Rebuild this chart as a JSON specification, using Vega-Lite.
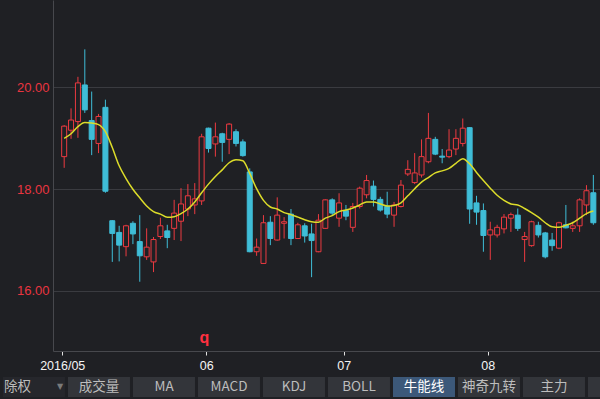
{
  "$schema": "https://vega.github.io/schema/vega-lite/v6.json",
  "width": 547,
  "height": 351,
  "autosize": {"type": "none"},
  "padding": {"left": 53, "top": 0, "right": 0, "bottom": 48},
  "background": "#1f2024",
  "config": {"view": {"stroke": null}},
  "datasets": {
    "k": [
      {"i":0,"o":18.64,"h":19.26,"l":18.42,"c":19.24,"ma":19.00},
      {"i":1,"o":19.16,"h":19.59,"l":18.99,"c":19.36,"ma":19.09},
      {"i":2,"o":19.33,"h":20.21,"l":19.01,"c":20.09,"ma":19.23},
      {"i":3,"o":20.05,"h":20.75,"l":19.50,"c":19.56,"ma":19.31},
      {"i":4,"o":19.35,"h":19.92,"l":18.67,"c":18.98,"ma":19.30},
      {"i":5,"o":18.90,"h":19.48,"l":18.71,"c":19.43,"ma":19.27},
      {"i":6,"o":19.61,"h":19.76,"l":17.93,"c":17.96,"ma":19.13},
      {"i":7,"o":17.38,"h":17.39,"l":16.57,"c":17.13,"ma":18.82},
      {"i":8,"o":17.15,"h":17.28,"l":16.58,"c":16.90,"ma":18.46},
      {"i":9,"o":16.87,"h":17.30,"l":16.68,"c":17.28,"ma":18.21},
      {"i":10,"o":17.33,"h":17.37,"l":16.92,"c":17.12,"ma":18.00},
      {"i":11,"o":16.97,"h":17.49,"l":16.18,"c":16.69,"ma":17.83},
      {"i":12,"o":16.67,"h":17.23,"l":16.61,"c":16.86,"ma":17.67},
      {"i":13,"o":16.57,"h":17.06,"l":16.37,"c":17.01,"ma":17.56},
      {"i":14,"o":17.07,"h":17.44,"l":17.02,"c":17.28,"ma":17.51},
      {"i":15,"o":17.18,"h":17.30,"l":16.84,"c":17.05,"ma":17.45},
      {"i":16,"o":17.23,"h":17.79,"l":17.00,"c":17.53,"ma":17.46},
      {"i":17,"o":17.37,"h":18.02,"l":16.98,"c":17.71,"ma":17.52},
      {"i":18,"o":17.61,"h":18.10,"l":17.47,"c":17.87,"ma":17.61},
      {"i":19,"o":17.69,"h":18.12,"l":17.51,"c":17.81,"ma":17.75},
      {"i":20,"o":17.77,"h":19.09,"l":17.69,"c":19.03,"ma":17.93},
      {"i":21,"o":19.20,"h":19.21,"l":18.72,"c":18.80,"ma":18.10},
      {"i":22,"o":18.89,"h":19.31,"l":18.64,"c":19.03,"ma":18.25},
      {"i":23,"o":19.09,"h":19.11,"l":18.54,"c":18.92,"ma":18.38},
      {"i":24,"o":18.98,"h":19.30,"l":18.69,"c":19.28,"ma":18.52},
      {"i":25,"o":19.13,"h":19.18,"l":18.84,"c":18.90,"ma":18.58},
      {"i":26,"o":18.93,"h":18.98,"l":18.64,"c":18.66,"ma":18.56},
      {"i":27,"o":18.34,"h":18.41,"l":16.76,"c":16.77,"ma":18.31},
      {"i":28,"o":16.77,"h":17.03,"l":16.69,"c":16.86,"ma":18.01},
      {"i":29,"o":16.54,"h":17.49,"l":16.53,"c":17.34,"ma":17.78},
      {"i":30,"o":17.35,"h":17.47,"l":16.90,"c":17.03,"ma":17.65},
      {"i":31,"o":17.00,"h":17.84,"l":16.99,"c":17.49,"ma":17.61},
      {"i":32,"o":17.33,"h":17.45,"l":17.03,"c":17.36,"ma":17.54},
      {"i":33,"o":17.51,"h":17.61,"l":16.90,"c":17.03,"ma":17.50},
      {"i":34,"o":17.03,"h":17.34,"l":17.02,"c":17.30,"ma":17.45},
      {"i":35,"o":17.28,"h":17.33,"l":16.95,"c":17.08,"ma":17.40},
      {"i":36,"o":17.12,"h":17.32,"l":16.27,"c":16.99,"ma":17.36},
      {"i":37,"o":16.77,"h":17.51,"l":16.76,"c":17.39,"ma":17.35},
      {"i":38,"o":17.23,"h":17.80,"l":17.22,"c":17.79,"ma":17.43},
      {"i":39,"o":17.79,"h":17.82,"l":17.49,"c":17.53,"ma":17.48},
      {"i":40,"o":17.43,"h":17.92,"l":17.26,"c":17.73,"ma":17.56},
      {"i":41,"o":17.58,"h":17.69,"l":17.39,"c":17.47,"ma":17.59},
      {"i":42,"o":17.25,"h":17.73,"l":17.16,"c":17.66,"ma":17.63},
      {"i":43,"o":17.66,"h":18.05,"l":17.62,"c":18.02,"ma":17.69},
      {"i":44,"o":17.89,"h":18.28,"l":17.82,"c":18.17,"ma":17.75},
      {"i":45,"o":18.06,"h":18.17,"l":17.66,"c":17.80,"ma":17.75},
      {"i":46,"o":17.80,"h":17.85,"l":17.56,"c":17.59,"ma":17.71},
      {"i":47,"o":17.66,"h":17.95,"l":17.43,"c":17.51,"ma":17.67},
      {"i":48,"o":17.49,"h":17.75,"l":17.26,"c":17.69,"ma":17.68},
      {"i":49,"o":17.66,"h":18.18,"l":17.64,"c":18.08,"ma":17.73},
      {"i":50,"o":18.30,"h":18.57,"l":18.26,"c":18.39,"ma":17.87},
      {"i":51,"o":18.13,"h":18.71,"l":18.10,"c":18.32,"ma":18.01},
      {"i":52,"o":18.28,"h":18.98,"l":18.23,"c":18.64,"ma":18.14},
      {"i":53,"o":18.54,"h":19.50,"l":18.51,"c":19.00,"ma":18.23},
      {"i":54,"o":18.98,"h":19.03,"l":18.67,"c":18.69,"ma":18.32},
      {"i":55,"o":18.65,"h":18.79,"l":18.51,"c":18.63,"ma":18.36},
      {"i":56,"o":18.64,"h":19.18,"l":18.61,"c":18.77,"ma":18.41},
      {"i":57,"o":18.79,"h":19.18,"l":18.67,"c":19.00,"ma":18.51},
      {"i":58,"o":18.90,"h":19.39,"l":18.84,"c":19.20,"ma":18.60},
      {"i":59,"o":19.21,"h":19.22,"l":17.32,"c":17.61,"ma":18.50},
      {"i":60,"o":17.73,"h":17.87,"l":17.30,"c":17.55,"ma":18.33},
      {"i":61,"o":17.58,"h":17.72,"l":16.77,"c":17.09,"ma":18.17},
      {"i":62,"o":17.10,"h":17.36,"l":16.61,"c":17.20,"ma":18.02},
      {"i":63,"o":17.10,"h":17.30,"l":17.05,"c":17.25,"ma":17.88},
      {"i":64,"o":17.22,"h":17.51,"l":17.13,"c":17.45,"ma":17.78},
      {"i":65,"o":17.43,"h":17.54,"l":17.16,"c":17.50,"ma":17.71},
      {"i":66,"o":17.49,"h":17.62,"l":17.18,"c":17.23,"ma":17.69},
      {"i":67,"o":17.01,"h":17.16,"l":16.57,"c":17.07,"ma":17.62},
      {"i":68,"o":16.89,"h":17.38,"l":16.87,"c":17.36,"ma":17.54},
      {"i":69,"o":17.29,"h":17.36,"l":17.05,"c":17.10,"ma":17.45},
      {"i":70,"o":17.14,"h":17.16,"l":16.64,"c":16.67,"ma":17.34},
      {"i":71,"o":17.00,"h":17.14,"l":16.79,"c":16.89,"ma":17.26},
      {"i":72,"o":16.84,"h":17.36,"l":16.82,"c":17.34,"ma":17.25},
      {"i":73,"o":17.30,"h":17.69,"l":17.23,"c":17.24,"ma":17.29},
      {"i":74,"o":17.23,"h":17.36,"l":17.16,"c":17.28,"ma":17.34},
      {"i":75,"o":17.28,"h":17.82,"l":17.16,"c":17.79,"ma":17.43},
      {"i":76,"o":17.69,"h":18.08,"l":17.49,"c":17.97,"ma":17.52},
      {"i":77,"o":17.93,"h":18.28,"l":17.30,"c":17.34,"ma":17.57}
    ],
    "marks": [{"i": 20.4, "v": 14.975, "t": "q"}],
    "bar": [
      {"b": "除权"}, {"b": "成交量"}, {"b": "MA"}, {"b": "MACD"}, {"b": "KDJ"},
      {"b": "BOLL"}, {"b": "牛能线"}, {"b": "神奇九转"}, {"b": "主力"}, {"b": "more"}
    ]
  },
  "layer": [
    {
      "data": {"name": "k"},
      "layer": [
        {
          "mark": {"type": "rule", "strokeWidth": 1},
          "encoding": {
            "x": {"field": "i", "type": "quantitative", "title": null,
              "scale": {"domain": [-0.9, 77.24], "nice": false, "zero": false},
              "axis": {"values": [-0.286, 20.67, 40.67, 61.63],
                "labelExpr": "datum.value < 5 ? '2016/05' : datum.value < 30 ? '06' : datum.value < 50 ? '07' : '08'",
                "labelColor": "#f4f4f4", "labelFont": "Liberation Sans", "labelFontSize": 12.5,
                "labelPadding": 4, "labelOverlap": false, "labelFlush": false,
                "tickColor": "#e0e0e0", "tickSize": 4, "tickWidth": 1,
                "domainColor": "#47484d", "grid": false}},
            "y": {"field": "l", "type": "quantitative", "title": null,
              "scale": {"domain": [14.818, 21.7207], "nice": false, "zero": false},
              "axis": {"values": [16, 18, 20], "format": ".2f",
                "labelColor": "#ea3540", "labelFont": "Liberation Sans", "labelFontSize": 13,
                "labelPadding": 4, "ticks": false, "domainColor": "#47484d",
                "grid": true, "gridColor": "#3a3b40"}},
            "y2": {"field": "h"},
            "color": {"condition": {"test": "datum.c >= datum.o", "value": "#ec3a40"}, "value": "#3fbdd7"}
          }
        },
        {
          "mark": {"type": "bar", "width": 5, "strokeWidth": 1},
          "encoding": {
            "x": {"field": "i", "type": "quantitative", "title": null},
            "y": {"field": "o", "type": "quantitative", "title": null},
            "y2": {"field": "c"},
            "fill": {"condition": {"test": "datum.c >= datum.o", "value": "#1f2024"}, "value": "#3fbdd7"},
            "stroke": {"condition": {"test": "datum.c >= datum.o", "value": "#ec3a40"}, "value": "#3fbdd7"}
          }
        },
        {
          "mark": {"type": "line", "color": "#dcdc2a", "strokeWidth": 1.5, "interpolate": "monotone"},
          "encoding": {
            "x": {"field": "i", "type": "quantitative", "title": null},
            "y": {"field": "ma", "type": "quantitative", "title": null}
          }
        },
        {
          "data": {"name": "marks"},
          "mark": {"type": "text", "color": "#ff3040", "fontSize": 16, "fontWeight": "bold", "font": "Liberation Sans", "baseline": "alphabetic"},
          "encoding": {
            "x": {"field": "i", "type": "quantitative", "title": null},
            "y": {"field": "v", "type": "quantitative", "title": null},
            "text": {"field": "t"}
          }
        }
      ]
    },
    {
      "data": {"name": "bar"},
      "layer": [
        {
          "mark": {"type": "bar"},
          "encoding": {
            "x": {"field": "b", "type": "nominal", "sort": null, "axis": null,
              "scale": {"domain": ["除权","成交量","MA","MACD","KDJ","BOLL","牛能线","神奇九转","主力","more"],
                "range": [-50, 597], "paddingInner": 0.0462, "paddingOuter": 0}},
            "y": {"datum": "t", "type": "nominal", "axis": null,
              "scale": {"range": [377, 397], "paddingInner": 0, "paddingOuter": 0}},
            "fill": {"condition": [
              {"test": "datum.b == '牛能线'", "value": "#3c5879"},
              {"test": "datum.b == '除权'", "value": "#26272c"}
            ], "value": "#33353a"}
          }
        },
        {
          "transform": [{"filter": "datum.b != '除权' && datum.b != 'more'"}],
          "mark": {"type": "text", "font": "Noto Sans CJK SC", "fontSize": 13.5},
          "encoding": {
            "x": {"field": "b", "type": "nominal", "sort": null, "axis": null},
            "y": {"datum": "t", "type": "nominal", "axis": null},
            "text": {"field": "b"},
            "color": {"condition": {"test": "datum.b == '牛能线'", "value": "#ffffff"}, "value": "#bdbdbd"}
          }
        },
        {
          "transform": [{"filter": "datum.b == '除权'"}],
          "mark": {"type": "text", "font": "Noto Sans CJK SC", "fontSize": 13.5, "align": "left", "dx": 1, "color": "#bdbdbd"},
          "encoding": {
            "x": {"field": "b", "type": "nominal", "sort": null, "axis": null, "bandPosition": 0},
            "y": {"datum": "t", "type": "nominal", "axis": null},
            "text": {"field": "b"}
          }
        },
        {
          "transform": [{"filter": "datum.b == '除权'"}],
          "mark": {"type": "text", "font": "DejaVu Sans", "fontSize": 8, "color": "#7a7a7a"},
          "encoding": {
            "x": {"field": "b", "type": "nominal", "sort": null, "axis": null, "bandPosition": 0.92},
            "y": {"datum": "t", "type": "nominal", "axis": null},
            "text": {"value": "▼"}
          }
        }
      ]
    }
  ],
  "resolve": {"scale": {"x": "independent", "y": "independent"}}
}
